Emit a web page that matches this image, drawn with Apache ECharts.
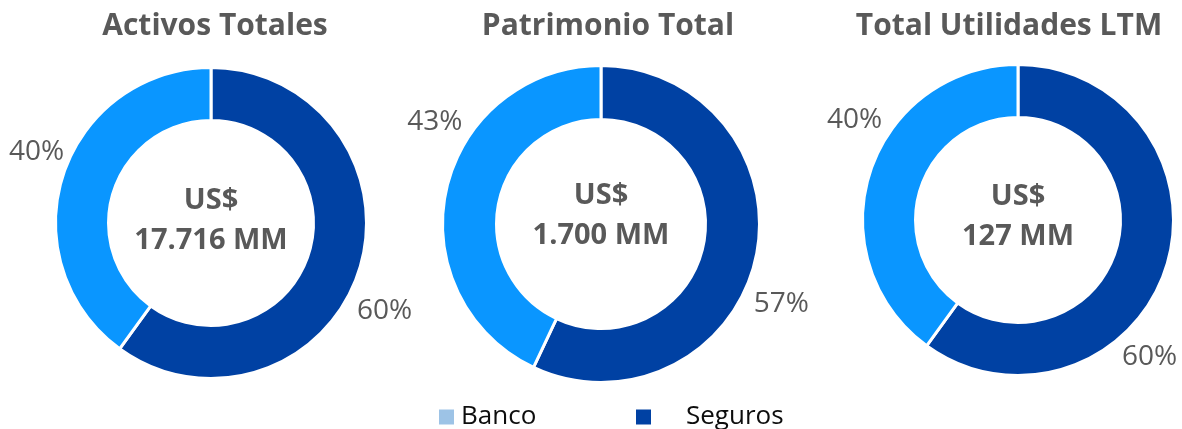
<!DOCTYPE html>
<html>
<head>
<meta charset="utf-8">
<script src="https://cdn.jsdelivr.net/npm/echarts@6/dist/echarts.min.js"></script>
<style>
  html, body { margin: 0; padding: 0; background: #fff; }
  #main { width: 1182px; height: 429px; }
</style>
</head>
<body>
<div id="main"></div>
<script>
// datos del gráfico
const categorias = ['Banco', 'Seguros'];
const titulos = ['Activos Totales', 'Patrimonio Total', 'Total Utilidades LTM'];
const totales = ['17.716', '1.700', '127'];
const banco = [40, 43, 40];
const seguros = [60, 57, 60];

// posición de cada dona
const centros = [[211, 223], [601, 224], [1018, 220]];
const radios = [[102.5, 155.5], [104.5, 158.5], [102.5, 155.5]];
const centroTitulo = [215, 608, 1009];
const centroTexto = [221, 216, 217];
// ajuste de etiquetas [seguros, banco]
const ajusteEtiquetas = [
  [[-7, 40], [6, -23]],
  [[-7, 45], [21, -67]],
  [[-49, 89], [17, -52]]
];

const colores = { Banco: '#0A96FF', Seguros: '#0041A3' };
const gris = '#595959';
const fuente = '"Open Sans", "Noto Sans", sans-serif';

let myChart = echarts.init(document.getElementById('main'));

let graficos = [];
titulos.forEach((t, i) => {
  graficos.push({
    type: 'text', x: centroTitulo[i], y: 26,
    style: { text: t, align: 'center', verticalAlign: 'middle', fill: gris,
      font: 'bold 30px ' + fuente }
  });
  graficos.push({
    type: 'text', x: centros[i][0], y: centroTexto[i],
    style: { text: 'US$\n' + totales[i] + ' MM', align: 'center', verticalAlign: 'middle',
      fill: gris, font: 'bold 29px ' + fuente, lineHeight: 40 }
  });
});

let option = {
  animation: false,
  graphic: graficos,
  legend: [
    {
      left: 432, top: 399, padding: 5, icon: 'rect', itemWidth: 17, itemHeight: 17, selectedMode: false,
      data: [{ name: categorias[0], itemStyle: { color: '#9DC3E6' } }],
      textStyle: { fontSize: 26, color: '#0D0D0D', fontFamily: fuente, padding: [0, 0, 0, 1] }
    },
    {
      left: 629, top: 399, padding: 5, icon: 'rect', itemWidth: 17, itemHeight: 17, selectedMode: false,
      data: [categorias[1]],
      textStyle: { fontSize: 26, color: '#0D0D0D', fontFamily: fuente, padding: [0, 0, 0, 29] }
    }
  ],
  series: titulos.map((t, i) => ({
    name: t,
    type: 'pie',
    center: centros[i],
    radius: radios[i],
    startAngle: 90,
    clockwise: true,
    avoidLabelOverlap: false,
    silent: true,
    itemStyle: { borderColor: '#fff', borderWidth: 3 },
    label: { show: true, position: 'outside', formatter: '{c}%', color: gris, fontSize: 28, fontFamily: fuente },
    labelLine: { show: false, length: 0, length2: 0 },
    labelLayout: p => {
      const d = ajusteEtiquetas[i][p.dataIndex];
      return { dx: d[0], dy: d[1] };
    },
    data: [
      { name: categorias[1], value: seguros[i], itemStyle: { color: colores.Seguros } },
      { name: categorias[0], value: banco[i], itemStyle: { color: colores.Banco } }
    ]
  }))
};

myChart.setOption(option);
</script>
</body>
</html>
